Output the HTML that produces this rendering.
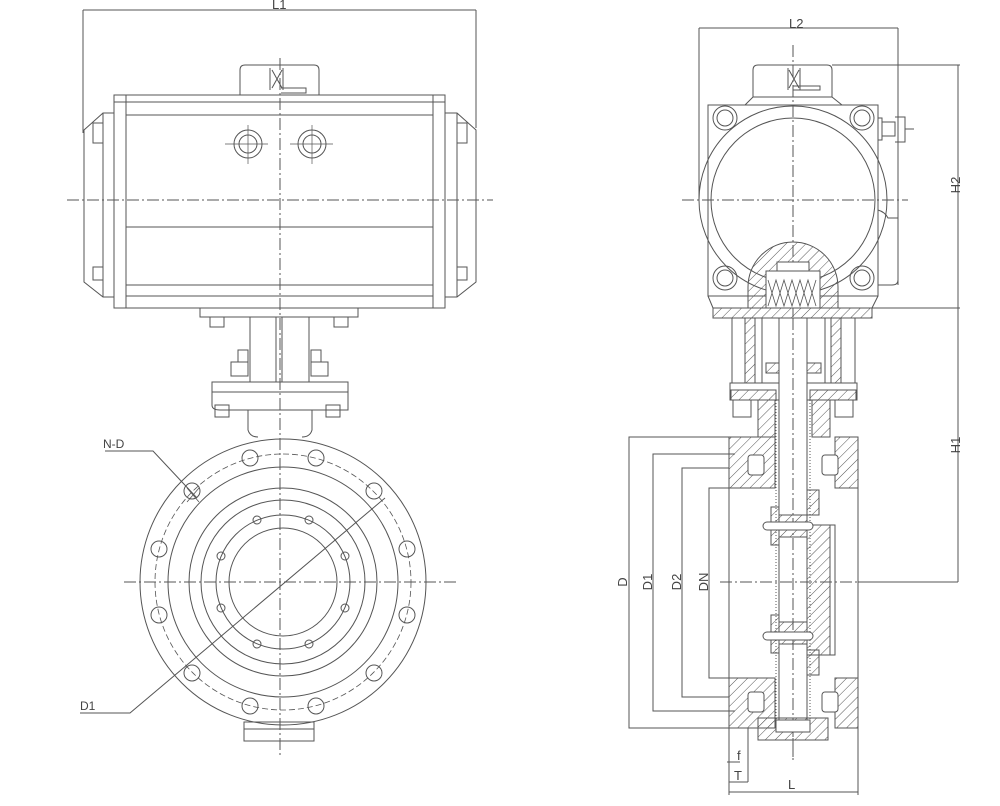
<!DOCTYPE html>
<html><head><meta charset="utf-8"><style>
html,body{margin:0;padding:0;background:#fff;}
svg{display:block;}
text{font-family:"Liberation Sans",sans-serif;fill:#444;}
</style></head><body>
<svg width="1000" height="806" viewBox="0 0 1000 806" xmlns="http://www.w3.org/2000/svg">
<defs>
<pattern id="h" width="7" height="7" patternUnits="userSpaceOnUse" patternTransform="rotate(45)">
<line x1="0" y1="0" x2="0" y2="7" stroke="#555" stroke-width="1"/>
</pattern>
</defs>
<g fill="none" stroke="#555" stroke-width="1">
<!-- ===== LEFT VIEW ===== -->
<!-- L1 dim -->
<line x1="83" y1="10" x2="476" y2="10"/>
<line x1="83" y1="10" x2="83" y2="133"/>
<line x1="476" y1="10" x2="476" y2="128"/>
<!-- top cap -->
<path d="M240,95 V70 Q240,65 245,65 H314 Q319,65 319,70 V95"/>
<path d="M270,68 V90 M283,68 V90 M272,70 L282,88 M282,70 L272,88 M281,88 H306 V93 H281"/>
<!-- body -->
<rect x="114" y="95" width="331" height="213"/>
<line x1="126" y1="95" x2="126" y2="308"/>
<line x1="433" y1="95" x2="433" y2="308"/>
<line x1="114" y1="102" x2="445" y2="102"/>
<line x1="126" y1="115" x2="433" y2="115"/>
<line x1="126" y1="227" x2="433" y2="227"/>
<line x1="126" y1="285" x2="433" y2="285"/>
<line x1="126" y1="296" x2="433" y2="296"/>
<!-- end caps -->
<path d="M114,113 H103 L84,130 V282 L103,297 H114"/>
<line x1="103" y1="113" x2="103" y2="297"/>
<rect x="93" y="123" width="10" height="20"/><rect x="93" y="267" width="10" height="13"/>
<path d="M445,113 H457 L476,130 V282 L457,297 H445"/>
<line x1="457" y1="113" x2="457" y2="297"/>
<rect x="457" y="123" width="10" height="20"/><rect x="457" y="267" width="10" height="13"/>
<!-- ports -->
<circle cx="248" cy="144" r="14"/><circle cx="248" cy="144" r="9"/>
<circle cx="312" cy="144" r="14"/><circle cx="312" cy="144" r="9"/>
<path d="M225,144 H268 M248,125 V164 M290,144 H333 M312,125 V164" stroke-width="0.7"/>
<!-- center lines -->
<line x1="67" y1="200" x2="493" y2="200" stroke-dasharray="12,3,2,3"/>
<line x1="280" y1="58" x2="280" y2="755" stroke-dasharray="12,3,2,3"/>
<!-- bracket -->
<rect x="200" y="308" width="158" height="9"/>
<rect x="210" y="317" width="14" height="10"/><rect x="334" y="317" width="14" height="10"/>
<line x1="250" y1="317" x2="250" y2="382"/><line x1="309" y1="317" x2="309" y2="382"/>
<line x1="276" y1="317" x2="276" y2="382"/><line x1="282" y1="317" x2="282" y2="382"/>
<rect x="238" y="350" width="10" height="12"/><rect x="231" y="362" width="17" height="14"/>
<rect x="311" y="350" width="10" height="12"/><rect x="311" y="362" width="17" height="14"/>
<rect x="212" y="382" width="136" height="10"/>
<path d="M212,392 V405 Q212,410 220,410 H348 V392"/>
<rect x="215" y="405" width="14" height="12"/><rect x="326" y="405" width="14" height="12"/>
<path d="M248,410 V430 Q250,437 258,437 M312,410 V430 Q310,437 302,437"/>
<!-- flange -->
<circle cx="283" cy="582" r="143"/>
<circle cx="283" cy="582" r="128" stroke-dasharray="6,3" stroke-width="0.8"/>
<circle cx="283" cy="582" r="115"/>
<circle cx="283" cy="582" r="94"/>
<circle cx="283" cy="582" r="82"/>
<circle cx="283" cy="582" r="67"/>
<circle cx="283" cy="582" r="54"/>
<g transform="translate(283,582)">
<circle cx="33" cy="-124" r="8"/><circle cx="-33" cy="-124" r="8"/>
<circle cx="91" cy="-91" r="8"/><circle cx="-91" cy="-91" r="8"/>
<circle cx="124" cy="-33" r="8"/><circle cx="-124" cy="-33" r="8"/>
<circle cx="124" cy="33" r="8"/><circle cx="-124" cy="33" r="8"/>
<circle cx="91" cy="91" r="8"/><circle cx="-91" cy="91" r="8"/>
<circle cx="33" cy="124" r="8"/><circle cx="-33" cy="124" r="8"/>
<circle cx="26" cy="-62" r="4"/><circle cx="-26" cy="-62" r="4"/>
<circle cx="62" cy="-26" r="4"/><circle cx="-62" cy="-26" r="4"/>
<circle cx="62" cy="26" r="4"/><circle cx="-62" cy="26" r="4"/>
<circle cx="26" cy="62" r="4"/><circle cx="-26" cy="62" r="4"/>
</g>
<line x1="124" y1="582" x2="457" y2="582" stroke-dasharray="12,3,2,3"/>
<!-- stub bottom -->
<rect x="244" y="722" width="70" height="19"/>
<line x1="244" y1="729" x2="314" y2="729"/>
<!-- leaders -->
<path d="M105,451 H153 L197,498"/>
<path d="M187,488 L199,502 M199,488 L187,502" stroke-width="0.8"/>
<path d="M80,713 H130 L385,498"/>
<!-- ===== RIGHT VIEW ===== -->
<line x1="699" y1="28" x2="898" y2="28"/>
<line x1="699" y1="28" x2="699" y2="200"/>
<line x1="898" y1="28" x2="898" y2="285"/>
<!-- H dims -->
<line x1="832" y1="65" x2="960" y2="65"/>
<line x1="860" y1="308" x2="960" y2="308"/>
<line x1="958" y1="65" x2="958" y2="582"/>
<line x1="858" y1="582" x2="958" y2="582"/>
<!-- cap -->
<path d="M753,97 V70 Q753,65 758,65 H827 Q832,65 832,70 V97"/>
<path d="M745,105 L753,97 H832 L842,105"/>
<path d="M788,68 V90 M800,68 V90 M789,70 L799,88 M799,70 L789,88 M793,86 H820 V90 H793"/>
<!-- square body -->
<rect x="708" y="105" width="170" height="191"/>
<path d="M708,296 L713,308 M878,296 L872,308"/>
<circle cx="793" cy="200" r="94"/>
<circle cx="793" cy="200" r="82"/>
<g>
<circle cx="725" cy="118" r="12"/><circle cx="725" cy="118" r="8"/>
<circle cx="862" cy="118" r="12"/><circle cx="862" cy="118" r="8"/>
<circle cx="725" cy="278" r="12"/><circle cx="725" cy="278" r="8"/>
<circle cx="862" cy="278" r="12"/><circle cx="862" cy="278" r="8"/>
</g>
<path d="M878,118 H882 V140 H878 M882,122 H895 V136 H882 M895,117 H905 V142 H895 M905,129 H914"/>
<path d="M878,210 Q885,212 888,218 H898 V280 Q898,285 892,285 H878"/>
<line x1="682" y1="200" x2="908" y2="200" stroke-dasharray="12,3,2,3"/>
<line x1="793" y1="45" x2="793" y2="760" stroke-dasharray="12,3,2,3"/>
<!-- hatched dome -->
<path d="M748,308 V287 A45,45 0 0 1 838,287 V308 Z" fill="url(#h)"/>
<rect x="766" y="271" width="54" height="37" fill="#fff"/>
<rect x="777" y="262" width="32" height="9" fill="#fff"/>
<path d="M768,280 L776,306 L784,280 L792,306 L800,280 L808,306 L816,280 M768,306 L776,280 L784,306 L792,280 L800,306 L808,280 L816,306" stroke-width="0.8"/>
<!-- base plate -->
<path d="M713,308 H872 V318 H713 Z" fill="url(#h)"/>
<!-- bracket -->
<line x1="732" y1="318" x2="732" y2="383"/><line x1="855" y1="318" x2="855" y2="383"/>
<rect x="745" y="318" width="10" height="65" fill="url(#h)"/>
<rect x="831" y="318" width="10" height="65" fill="url(#h)"/>
<line x1="762" y1="318" x2="762" y2="383"/><line x1="825" y1="318" x2="825" y2="383"/>
<rect x="766" y="363" width="14" height="10" fill="url(#h)"/>
<rect x="807" y="363" width="14" height="10" fill="url(#h)"/>
<rect x="730" y="383" width="127" height="17"/>
<rect x="731" y="390" width="45" height="10" fill="url(#h)"/>
<rect x="810" y="390" width="46" height="10" fill="url(#h)"/>
<rect x="733" y="400" width="18" height="17"/><rect x="835" y="400" width="18" height="17"/>
<path d="M758,400 V437 M775,400 V437 M812,400 V437 M830,400 V437"/>
<rect x="758" y="400" width="17" height="37" fill="url(#h)"/>
<rect x="812" y="400" width="18" height="37" fill="url(#h)"/>
<!-- stem -->
<rect x="779" y="318" width="28" height="410" fill="#fff"/>
<line x1="776" y1="400" x2="776" y2="720" stroke-dasharray="1,2"/>
<line x1="810" y1="400" x2="810" y2="720" stroke-dasharray="1,2"/>
<line x1="793" y1="318" x2="793" y2="760" stroke-dasharray="12,3,2,3"/>
<!-- body lower -->
<path d="M729,437 H775 V488 H729 Z" fill="url(#h)"/>
<path d="M835,437 H858 V488 H835 Z" fill="url(#h)"/>
<path d="M729,678 H775 V728 H729 Z" fill="url(#h)"/>
<path d="M835,678 H858 V728 H835 Z" fill="url(#h)"/>
<rect x="748" y="455" width="16" height="20" rx="3" fill="#fff"/>
<rect x="822" y="455" width="16" height="20" rx="3" fill="#fff"/>
<rect x="748" y="692" width="16" height="20" rx="3" fill="#fff"/>
<rect x="822" y="692" width="16" height="20" rx="3" fill="#fff"/>
<line x1="729" y1="488" x2="729" y2="678"/>
<line x1="858" y1="488" x2="858" y2="678"/>
<rect x="758" y="718" width="70" height="22" fill="url(#h)"/>
<rect x="776" y="720" width="34" height="12" fill="#fff"/>
<!-- disc -->
<rect x="807" y="525" width="23" height="130" fill="url(#h)"/>
<rect x="830" y="525" width="5" height="130"/>
<rect x="771" y="507" width="8" height="38" fill="url(#h)"/>
<rect x="771" y="615" width="8" height="38" fill="url(#h)"/>
<rect x="779" y="515" width="28" height="22" fill="url(#h)"/>
<rect x="779" y="622" width="28" height="22" fill="url(#h)"/>
<rect x="763" y="522" width="50" height="8" rx="4" fill="#fff"/>
<rect x="763" y="632" width="50" height="8" rx="4" fill="#fff"/>
<rect x="807" y="490" width="12" height="25" fill="url(#h)"/>
<rect x="807" y="650" width="12" height="25" fill="url(#h)"/>
<line x1="720" y1="582" x2="900" y2="582" stroke-dasharray="12,3,2,3"/>
<!-- dims -->
<path d="M735,437 H629 V728 H735"/>
<path d="M735,454 H653 V711 H735"/>
<path d="M729,468 H682 V697 H729"/>
<path d="M729,488 H709 V678 H729"/>
<line x1="729" y1="728" x2="729" y2="795"/>
<line x1="858" y1="728" x2="858" y2="795"/>
<line x1="729" y1="792" x2="858" y2="792"/>
<line x1="748" y1="728" x2="748" y2="782"/>
<line x1="727" y1="762" x2="740" y2="762"/>
<line x1="729" y1="782" x2="748" y2="782"/>
</g>
<!-- labels -->
<g font-size="13">
<text x="272" y="9">L1</text>
<text x="789" y="28">L2</text>
<text x="103" y="448" font-size="12">N-D</text>
<text x="80" y="710" font-size="12">D1</text>
<text transform="translate(960,185) rotate(-90)" text-anchor="middle">H2</text>
<text transform="translate(960,445) rotate(-90)" text-anchor="middle">H1</text>
<text transform="translate(627,582) rotate(-90)" text-anchor="middle">D</text>
<text transform="translate(652,582) rotate(-90)" text-anchor="middle">D1</text>
<text transform="translate(681,582) rotate(-90)" text-anchor="middle">D2</text>
<text transform="translate(708,582) rotate(-90)" text-anchor="middle">DN</text>
<text x="737" y="760">f</text>
<text x="734" y="780">T</text>
<text x="788" y="789">L</text>
</g>
</svg>
</body></html>
